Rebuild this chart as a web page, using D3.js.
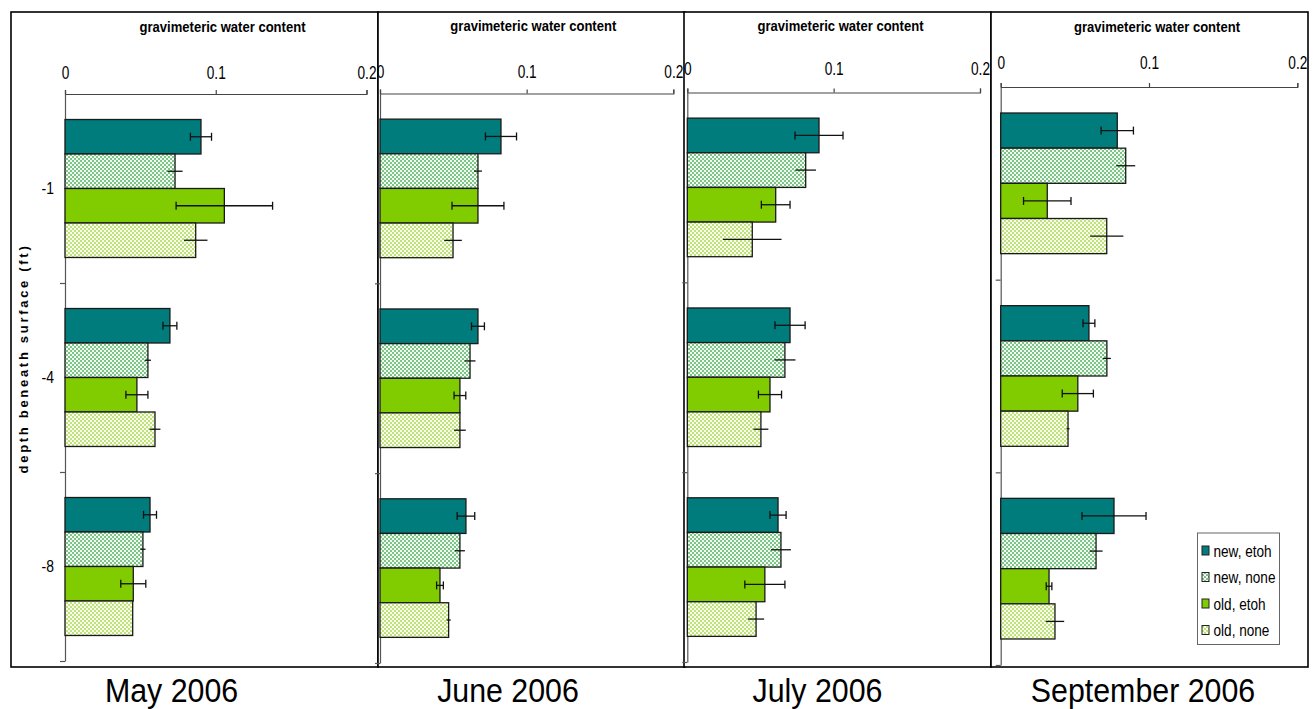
<!DOCTYPE html>
<html>
<head>
<meta charset="utf-8">
<script src="https://cdn.jsdelivr.net/npm/d3@7"></script>
<style>
  body { margin: 0; background: #fff; }
  svg { display: block; }
  text { font-family: "Liberation Sans", Arial, Helvetica, sans-serif; fill: #000; }
</style>
</head>
<body>
<svg id="chart" width="1314" height="709"></svg>
<script>
// ---- data -------------------------------------------------------------
const depths = ["-1", "-4", "-8"];
const treatments = ["new, etoh", "new, none", "old, etoh", "old, none"];
const months = ["May 2006", "June 2006", "July 2006", "September 2006"];
const xTicks = [0, 0.1, 0.2];
const xTitle = "gravimeteric water content";
const yTitle = "depth beneath surface (ft)";

// mean gravimetric water content, rows = depth, columns = treatment
const meanMay  = [[0.0902, 0.0730, 0.1057, 0.0867], [0.0696, 0.0550, 0.0477, 0.0597], [0.0564, 0.0517, 0.0453, 0.0449]];
const meanJune = [[0.0825, 0.0668, 0.0668, 0.0498], [0.0668, 0.0614, 0.0545, 0.0545], [0.0586, 0.0545, 0.0409, 0.0468]];
const meanJuly = [[0.0900, 0.0809, 0.0604, 0.0444], [0.0702, 0.0667, 0.0565, 0.0503], [0.0620, 0.0640, 0.0530, 0.0470]];
const meanSept = [[0.0786, 0.0843, 0.0314, 0.0715], [0.0595, 0.0716, 0.0520, 0.0454], [0.0764, 0.0643, 0.0326, 0.0366]];

// standard error of each mean, same layout
const errMay  = [[0.0070, 0.0050, 0.0320, 0.0078], [0.0046, 0.0020, 0.0073, 0.0036], [0.0043, 0.0017, 0.0083, 0.0000]];
const errJune = [[0.0106, 0.0027, 0.0177, 0.0060], [0.0044, 0.0037, 0.0040, 0.0040], [0.0060, 0.0034, 0.0023, 0.0014]];
const errJuly = [[0.0164, 0.0070, 0.0098, 0.0200], [0.0103, 0.0072, 0.0079, 0.0051], [0.0055, 0.0068, 0.0137, 0.0055]];
const errSept = [[0.0109, 0.0064, 0.0160, 0.0112], [0.0040, 0.0027, 0.0105, 0.0010], [0.0216, 0.0044, 0.0019, 0.0062]];

const means = [meanMay, meanJune, meanJuly, meanSept];
const errs = [errMay, errJune, errJuly, errSept];

// ---- layout ------------------------------------------------------------
const panels = [
  { frame: [11, 12, 378, 667],   x: [65, 366.5],     y: [94, 661],   pad: 11,   titleX: 222.5, titleY: 31.5, monthX: 171.5, depthLabels: true },
  { frame: [378, 12, 685, 667],  x: [380, 673.3],    y: [93.5, 663], pad: 11.5, titleX: 533.3, titleY: 30.7, monthX: 508 },
  { frame: [684, 12, 991, 667],  x: [687.3, 980],    y: [92.5, 662], pad: 13.5, titleX: 840.5, titleY: 30.7, monthX: 817.5 },
  { frame: [991, 12, 1308, 667], x: [1000.7, 1297.3], y: [87, 665],  pad: 14.5, titleX: 1157,  titleY: 32.3, monthX: 1143, legend: true }
];

const fills = ["#007C7C", "url(#dotsNew)", "#80CC00", "url(#dotsOld)"];
const capped = [true, false, true, false];

const svg = d3.select("#chart");

// staggered dot fills for the untreated series
const defs = svg.append("defs");
function dotPattern(id, bg, dot) {
  const p = defs.append("pattern").attr("id", id).attr("patternUnits", "userSpaceOnUse")
    .attr("width", 4).attr("height", 4);
  p.append("rect").attr("width", 4).attr("height", 4).attr("fill", bg);
  p.append("rect").attr("x", 0).attr("y", 0).attr("width", 2).attr("height", 2).attr("fill", dot);
  p.append("rect").attr("x", 2).attr("y", 2).attr("width", 2).attr("height", 2).attr("fill", dot);
}
dotPattern("dotsNew", "#f2f9f2", "#7cc586");
dotPattern("dotsOld", "#f8fcee", "#bfe27a");

// horizontally condensed text helper
function label(g, x, y, str, size, sx, anchor, weight) {
  return g.append("text")
    .attr("transform", `translate(${x},${y}) scale(${sx},1)`)
    .attr("text-anchor", anchor || "middle")
    .style("font-size", size + "px")
    .style("font-weight", weight || "normal")
    .text(str);
}

panels.forEach((p, i) => {
  const g = svg.append("g");
  const [fx0, fy0, fx1, fy1] = p.frame;

  g.append("rect")
    .attr("x", fx0).attr("y", fy0).attr("width", fx1 - fx0).attr("height", fy1 - fy0)
    .attr("fill", "#fff").attr("stroke", "#000").attr("stroke-width", 1.6);

  const x = d3.scaleLinear().domain([0, 0.2]).range(p.x);
  const y = d3.scaleBand().domain(depths).range(p.y).paddingInner(0.27).paddingOuter(0.135);
  const ys = d3.scaleBand().domain(treatments).range([0, y.bandwidth()]);
  const yEdges = d3.scaleLinear().domain([0, depths.length]).range(p.y);

  // value axis along the top
  const xa = g.append("g").attr("transform", `translate(0,${p.y[0]})`)
    .call(d3.axisTop(x).tickValues(xTicks).tickSize(4).tickSizeOuter(4).tickPadding(p.pad)
      .tickFormat(d => d === 0 ? "0" : d3.format(".1f")(d)));
  xa.selectAll("path, line").attr("stroke", "#444").attr("stroke-width", 1.2);
  xa.selectAll("text").attr("font-family", null).style("font-size", "18px").attr("fill", "#000")
    .attr("transform", "scale(0.76,1)");

  // depth axis: line plus ticks at the group boundaries
  const ya = g.append("g").attr("transform", `translate(${p.x[0]},0)`)
    .call(d3.axisLeft(yEdges).tickValues([1, 2, 3]).tickSize(5).tickSizeOuter(0).tickFormat(""));
  ya.selectAll("path, line").attr("stroke", "#555").attr("stroke-width", 1.2);

  if (p.depthLabels) {
    const yl = g.append("g").attr("transform", `translate(${p.x[0]},0)`)
      .call(d3.axisLeft(y).tickSize(0).tickPadding(11));
    yl.select(".domain").remove();
    yl.selectAll("text").each(function () {
      const t = d3.select(this);
      const tx = +t.attr("x");
      t.attr("x", 0).attr("transform", `translate(${tx},0) scale(0.82,1)`)
        .attr("font-family", null).style("font-size", "17px").attr("fill", "#000");
    });
  }

  // bars
  const rows = depths.flatMap((d, di) => treatments.map((t, ti) => ({
    depth: d, t, ti, v: means[i][di][ti], e: errs[i][di][ti]
  })));

  g.append("g").selectAll("rect").data(rows).join("rect")
    .attr("x", x(0))
    .attr("y", d => y(d.depth) + ys(d.t))
    .attr("width", d => x(d.v) - x(0))
    .attr("height", ys.bandwidth())
    .attr("fill", d => fills[d.ti])
    .attr("stroke", "#1a1a1a").attr("stroke-width", 1.3);

  // error bars
  const eb = g.append("g").selectAll("g").data(rows.filter(d => d.e > 0)).join("g")
    .attr("transform", d => `translate(0,${y(d.depth) + ys(d.t) + ys.bandwidth() / 2})`);
  eb.append("line")
    .attr("x1", d => x(d.v - d.e)).attr("x2", d => x(d.v + d.e))
    .attr("stroke", "#111").attr("stroke-width", 1.3);
  eb.filter(d => capped[d.ti]).selectAll(".cap").data(d => [d.v - d.e, d.v + d.e]).join("line")
    .attr("class", "cap")
    .attr("x1", v => x(v)).attr("x2", v => x(v))
    .attr("y1", -4).attr("y2", 4)
    .attr("stroke", "#111").attr("stroke-width", 1.3);

  // titles
  label(g, p.titleX, p.titleY, xTitle, 14.5, 0.9, "middle", "bold");
  label(g, p.monthX, 702, months[i], 33, 0.92, "middle");

  if (p.legend) {
    const lg = g.append("g");
    lg.append("rect").attr("x", 1197.5).attr("y", 533).attr("width", 82).attr("height", 111.5)
      .attr("fill", "#fff").attr("stroke", "#666").attr("stroke-width", 1);
    const ly = d3.scalePoint().domain(treatments).range([550.5, 630]);
    treatments.forEach((t, ti) => {
      lg.append("rect").attr("x", 1202).attr("y", ly(t) - 4.5).attr("width", 7).attr("height", 9)
        .attr("fill", fills[ti]).attr("stroke", "#222").attr("stroke-width", 1);
      label(lg, 1213.5, ly(t) + 6, t, 17, 0.8, "start");
    });
  }
});

// shared depth title
svg.append("text")
  .attr("transform", "translate(28,358.5) rotate(-90)")
  .attr("text-anchor", "middle")
  .style("font-size", "13px").style("font-weight", "bold").style("letter-spacing", "2.7px")
  .text(yTitle);
</script>
</body>
</html>
